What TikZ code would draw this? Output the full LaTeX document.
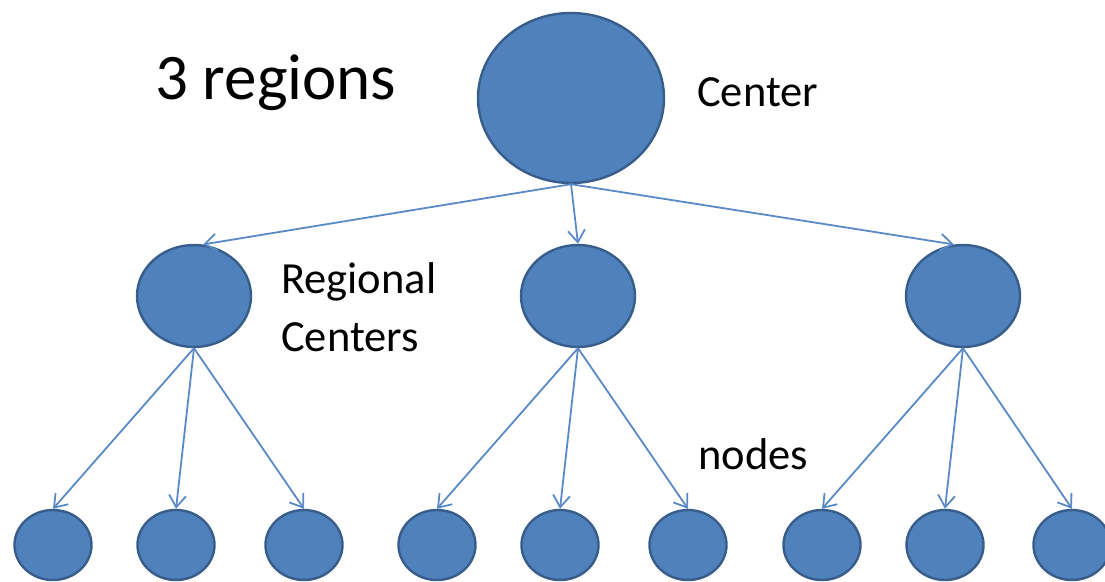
\documentclass[tikz,border=0pt]{standalone}
\usepackage{fontspec}
\setmainfont{Carlito}
\usetikzlibrary{shapes.geometric,arrows.meta}
\definecolor{nodefill}{HTML}{4F81BD}
\definecolor{nodeedge}{HTML}{385D8A}
\definecolor{linkblue}{HTML}{5A8AC6}
\begin{document}
\begin{tikzpicture}[x=1pt,y=-1pt,
  hub/.style={ellipse,draw=nodeedge,fill=nodefill,line width=2.4pt,inner sep=0pt},
  bighub/.style={hub,minimum width=186pt,minimum height=170pt},
  midhub/.style={hub,minimum width=114pt,minimum height=102pt},
  leaf/.style={hub,minimum width=77pt,minimum height=70pt},
  link/.style={draw=linkblue,line width=1.8pt,-{Straight Barb[length=12pt,width=17pt,line width=1.8pt]}},
  lbl/.style={anchor=base west,inner sep=0pt,text=black,font=\fontsize{44.5}{53}\selectfont},
  title/.style={anchor=base west,inner sep=0pt,text=black,font=\fontsize{65}{78}\selectfont}]
\useasboundingbox (0,0) rectangle (1105,581);
\clip (0,0) rectangle (1105,581);

% top level
\node[bighub] (c) at (571,98) {};

% regional centers
\node[midhub] (r1) at (194,296) {};
\node[midhub] (r2) at (578,296) {};
\node[midhub] (r3) at (963,296) {};

% leaves
\foreach \n/\x in {b1/53,b2/176,b3/304,b4/437,b5/560,b6/688,b7/822,b8/945,b9/1072}
  \node[leaf] (\n) at (\x,545) {};

% labels
\node[title] (tRegions) at (155,99) {3 regions};
\node[lbl] (tCenter) at (697,106) {Center};
\node[lbl] (tRegA) at (281,293) {Regional};
\node[lbl] (tRegB) at (281,351) {Centers};
\node[lbl] (tNodes) at (698,469) {nodes};

% links from the center
\draw[link] (c.south) -- (r1.80);
\draw[link] (c.south) -- (r2.north);
\draw[link] (c.south) -- (r3.100);

% links from the regional centers
\draw[link] (r1.south) -- (b1.north);
\draw[link] (r1.south) -- (b2.north);
\draw[link] (r1.south) -- (b3.north);
\draw[link] (r2.south) -- (b4.north);
\draw[link] (r2.south) -- (b5.north);
\draw[link] (r2.south) -- (b6.north);
\draw[link] (r3.south) -- (b7.north);
\draw[link] (r3.south) -- (b8.north);
\draw[link] (r3.south) -- (b9.north);
\end{tikzpicture}
\end{document}
